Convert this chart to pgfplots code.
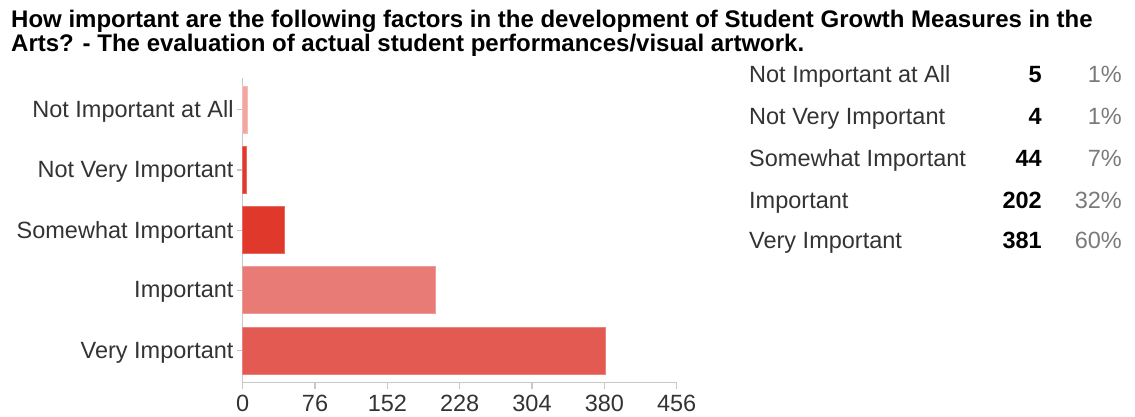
\documentclass[border=0pt]{standalone}
\usepackage{fontspec}
\setmainfont{Liberation Sans}
\usepackage{pgfplots}
\pgfplotsset{compat=1.18}
\definecolor{cA}{HTML}{F2A6A2}
\definecolor{cB}{HTML}{E0392C}
\definecolor{cC}{HTML}{E0392C}
\definecolor{cD}{HTML}{E97B76}
\definecolor{cE}{HTML}{E35A53}
\definecolor{axgray}{HTML}{C8C8C8}
\definecolor{txt}{HTML}{333333}
\definecolor{pct}{HTML}{7A7A7A}
\begin{document}
\begin{tikzpicture}
\path[use as bounding box] (0,0) rectangle (1135pt,-417pt);
\node[anchor=base west, inner sep=0pt, font=\fontsize{24}{26}\selectfont\bfseries] at (11pt,-28pt) {How important are the following factors in the development of Student Growth Measures in the};
\node[anchor=base west, inner sep=0pt, font=\fontsize{24}{26}\selectfont\bfseries] at (11pt,-52pt) {Arts? - The evaluation of actual student performances/visual artwork.};
\begin{axis}[
  at={(242.7pt,-382.7pt)}, anchor=south west,
  scale only axis, width=434pt, height=304.7pt,
  xmin=0, xmax=456, ymin=-0.536, ymax=4.53,
  xtick={0,76,152,228,304,380,456},
  ytick={0,1,2,3,4},
  yticklabels={Very Important, Important, Somewhat Important, Not Very Important, Not Important at All},
  axis x line*=bottom, axis y line*=left,
  axis line style={draw=axgray, line width=1.5pt, -},
  tick align=outside, major tick length=6pt,
  tick style={draw=axgray, line width=1.2pt},
  ticklabel style={font=\fontsize{23.5}{26}\selectfont, text=txt, inner sep=0pt},
  yticklabel style={xshift=-3pt, yshift=-2pt},
  xticklabel style={yshift=-6pt},
  /pgf/number format/assume math mode=true,
  xbar, bar width=47pt,
  every axis plot/.append style={bar shift=0pt, line width=0.8pt},
  clip=false,
]
\addplot[fill=cE, draw=cE!75!white] coordinates {(381,0)};
\addplot[fill=cD, draw=cD!75!white] coordinates {(202,1)};
\addplot[fill=cC, draw=cC!75!white] coordinates {(44,2)};
\addplot[fill=cB, draw=cB!75!white] coordinates {(4,3)};
\addplot[fill=cA, draw=cA!75!white] coordinates {(5,4)};
\end{axis}
\begin{scope}[every node/.style={inner sep=0pt, font=\fontsize{23.5}{26}\selectfont}]
\foreach \lab/\n/\p/\yy in {Not Important at All/5/1/83, Not Very Important/4/1/125, Somewhat Important/44/7/167, Important/202/32/208, Very Important/381/60/248}{
  \node[anchor=base west, text=txt] at (749pt,-\yy pt) {\lab};
  \node[anchor=base east, font=\fontsize{23.5}{26}\selectfont\bfseries] at (1042pt,-\yy pt) {\n};
  \node[anchor=base east, text=pct] at (1122pt,-\yy pt) {\p\%};
}
\end{scope}
\end{tikzpicture}
\end{document}
